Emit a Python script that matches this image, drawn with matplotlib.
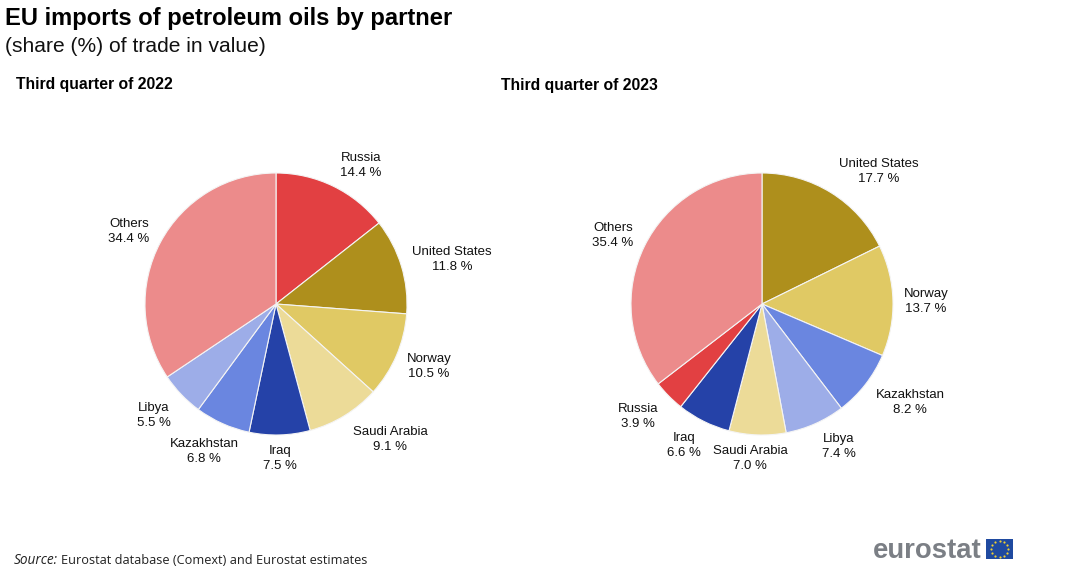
import numpy as np
import matplotlib
matplotlib.use("Agg")
import matplotlib.pyplot as plt
from matplotlib.patches import Rectangle

W, H = 1084, 575

partners_2022 = ["Russia", "United States", "Norway", "Saudi Arabia", "Iraq", "Kazakhstan", "Libya", "Others"]
values_2022 = [14.4, 11.8, 10.5, 9.1, 7.5, 6.8, 5.5, 34.4]
partners_2023 = ["United States", "Norway", "Kazakhstan", "Libya", "Saudi Arabia", "Iraq", "Russia", "Others"]
values_2023 = [17.7, 13.7, 8.2, 7.4, 7.0, 6.6, 3.9, 35.4]

colours = {
    "Russia": "#e24042",
    "United States": "#ae8f1c",
    "Norway": "#e0c964",
    "Saudi Arabia": "#ecdb98",
    "Iraq": "#2542a8",
    "Kazakhstan": "#6a86e0",
    "Libya": "#9dade8",
    "Others": "#ec8b8b",
}

# label centres in pixels, same order as the partners
label_pos_2022 = [(361, 165.5), (452, 259.5), (429, 366.5), (390, 439.5), (280, 458.5), (204, 451.5), (154, 415.5), (129, 231.5)]
label_pos_2023 = [(879, 171.5), (926, 301.5), (910, 402.5), (839, 446.5), (750, 458.5), (684, 445.5), (638, 416.5), (613, 235.5)]

plt.rcParams["font.family"] = ["Liberation Sans", "DejaVu Sans"]
fig = plt.figure(figsize=(W / 100, H / 100), dpi=100, facecolor="white")


def draw_pie(cx, cy, r, partners, values, label_pos):
    ax = fig.add_axes([(cx - r) / W, 1 - (cy + r) / H, 2 * r / W, 2 * r / H])
    ax.pie(values, colors=[colours[p] for p in partners], startangle=90, counterclock=False,
           radius=1, wedgeprops={"edgecolor": "#f4f4f4", "linewidth": 0.8})
    ax.set_xlim(-1, 1)
    ax.set_ylim(-1, 1)
    for p, v, (px, py) in zip(partners, values, label_pos):
        ax.text((px - cx) / r, (cy - py) / r, f"{p}\n{v:.1f} %", ha="center", va="center",
                fontsize=9.5, color="#111111", linespacing=1.36, clip_on=False)


draw_pie(276, 304, 131, partners_2022, values_2022, label_pos_2022)
draw_pie(762, 304, 131, partners_2023, values_2023, label_pos_2023)


def px_text(x, y, s, **kw):
    fig.text(x / W, 1 - y / H, s, **kw)


px_text(5, 18, "EU imports of petroleum oils by partner", fontsize=17.1, fontweight="bold", va="center", color="#000000")
px_text(5, 47, "(share (%) of trade in value)", fontsize=15.15, va="center", color="#111111")
px_text(16, 84.5, "Third quarter of 2022", fontsize=11.3, fontweight="bold", va="center", color="#000000")
px_text(501, 85.5, "Third quarter of 2023", fontsize=11.3, fontweight="bold", va="center", color="#000000")

px_text(14, 560, "Source:", fontsize=9.8, style="italic", family=["Open Sans"], va="center", color="#222222")
px_text(61, 560, "Eurostat database (Comext) and Eurostat estimates", fontsize=9.15, family=["Open Sans"],
        va="center", color="#222222")

px_text(873, 551, "eurostat", fontsize=19.8, fontweight="bold", va="center", color="#7b7f85")

# EU flag
flag_x, flag_y, flag_w, flag_h = 986, 539, 27, 20
flag = fig.add_axes([flag_x / W, 1 - (flag_y + flag_h) / H, flag_w / W, flag_h / H])
flag.add_patch(Rectangle((0, 0), 1, 1, color="#1f4aa0"))
star_angles = np.linspace(0, 2 * np.pi, 12, endpoint=False)
flag.scatter(0.5 + 0.3 * np.cos(star_angles), 0.5 + 0.4 * np.sin(star_angles), s=2.5, color="#f0d030", linewidths=0)
flag.set_xlim(0, 1)
flag.set_ylim(0, 1)
flag.axis("off")

fig.savefig("out.png", dpi=100)
